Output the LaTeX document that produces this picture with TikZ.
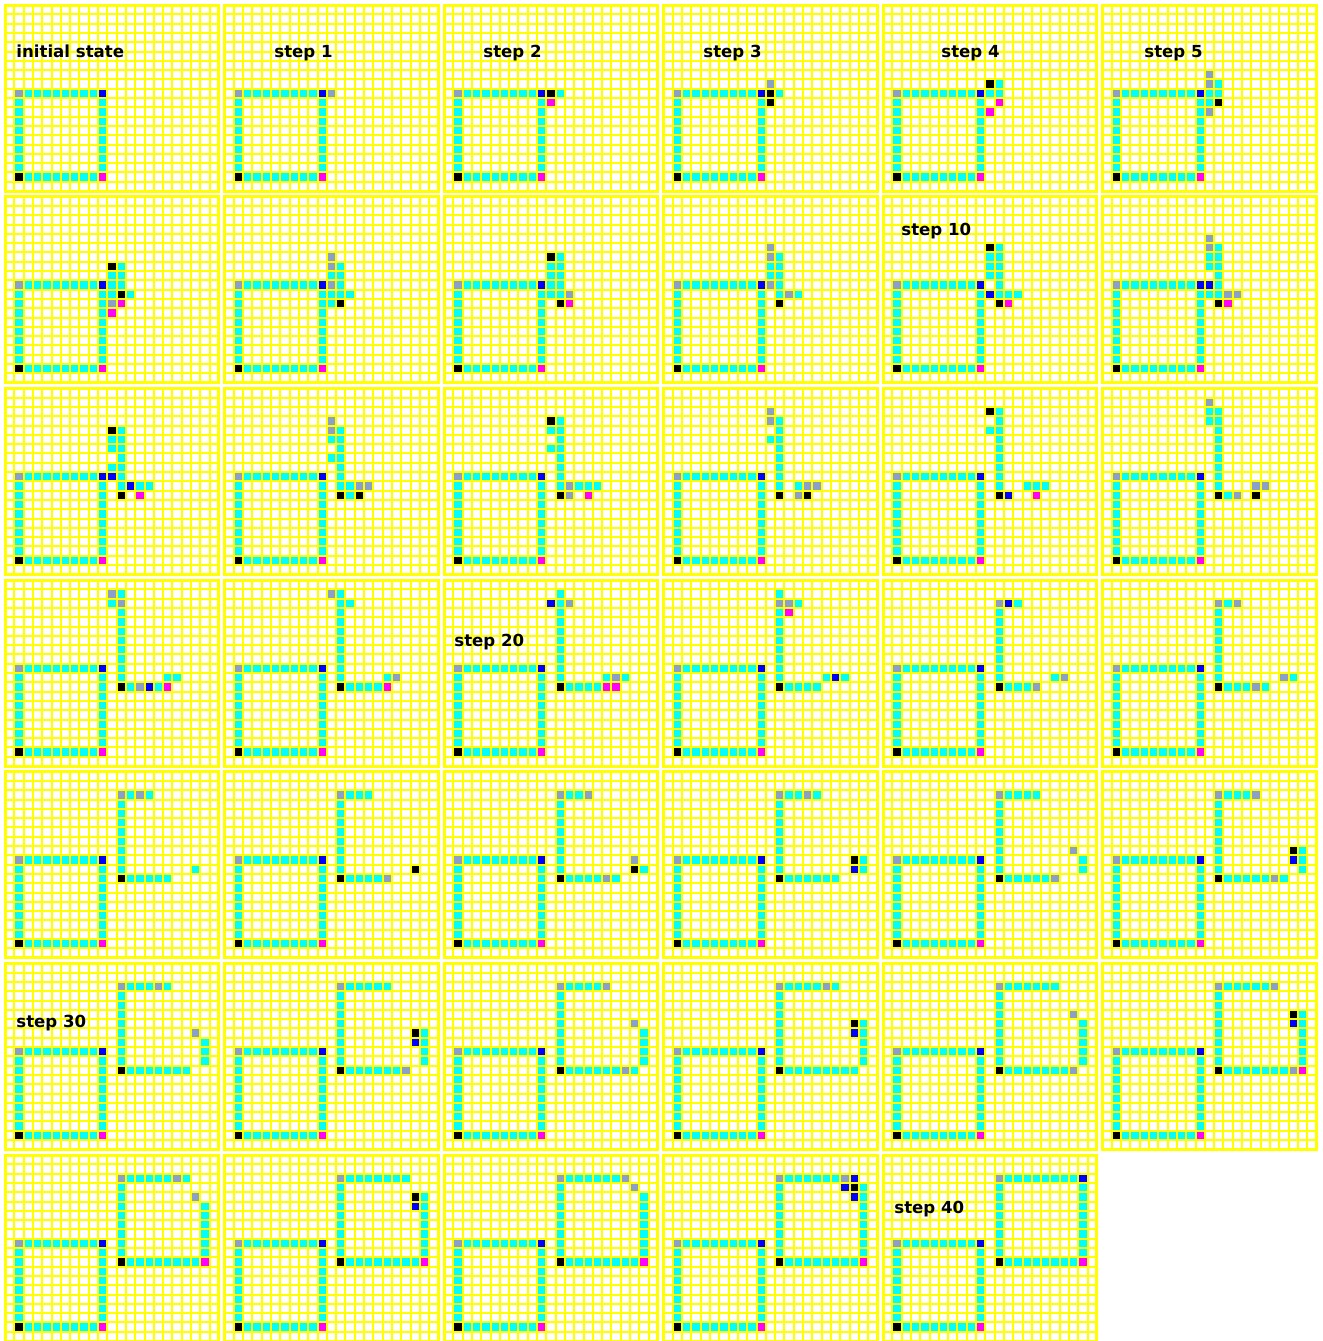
\documentclass[tikz,border=0pt]{standalone}
\usepackage{fontspec}
\newfontfamily\lblfont{DejaVu Sans}
\definecolor{cC}{RGB}{0,255,255}
\definecolor{cG}{RGB}{138,160,200}
\definecolor{cB}{RGB}{0,0,255}
\definecolor{cK}{RGB}{0,0,0}
\definecolor{cM}{RGB}{255,0,255}
\definecolor{yl}{RGB}{255,255,0}
\tikzset{
  gridline/.style={draw=yl, line width=1pt},
  panelborder/.style={draw=yl, line width=1.5pt},
  steplabel/.style={anchor=base west, inner sep=0pt, font=\lblfont\bfseries\fontsize{8.3pt}{10pt}\selectfont}
}
\newcommand\capanel[3]{%
\begin{scope}[shift={({5+219.5*#1},{5+191.67*#2})}, x=4.652pt, y=-4.65pt]
 \fill[white] (0,0) rectangle (23,20);
 \fill[cG] (1,9) rectangle (2,10);
 \fill[cC] (2,9) rectangle (10,10);
 \fill[cB] (10,9) rectangle (11,10);
 \fill[cC] (1,10) rectangle (2,18);
 \fill[cC] (10,10) rectangle (11,18);
 \fill[cK] (1,18) rectangle (2,19);
 \fill[cC] (2,18) rectangle (10,19);
 \fill[cM] (10,18) rectangle (11,19);
 \foreach \a/\b/\c/\d/\k in {#3} {\fill[\k] (\a,\b) rectangle ({\c+1},{\d+1});}
 \foreach \i in {1,...,22} {\draw[gridline] (\i,0) -- (\i,20);}
 \foreach \j in {1,...,19} {\draw[gridline] (0,\j) -- (23,\j);}
 \draw[panelborder] (0,0) rectangle (23,20);
\end{scope}}
\begin{document}
\begin{tikzpicture}[x=0.5pt, y=-0.5pt]
\fill[white] (0,0) rectangle (1323,1341);
\useasboundingbox (0,0) rectangle (1323,1341);
% row 0
\capanel{0}{0}{1/9/1/9/cG}
\capanel{1}{0}{11/9/11/9/cG}
\capanel{2}{0}{11/9/11/9/cK, 12/9/12/9/cC, 11/10/11/10/cM}
\capanel{3}{0}{11/8/11/8/cG, 11/9/11/9/cK, 12/9/12/9/cC, 11/10/11/10/cK}
\capanel{4}{0}{11/8/11/8/cK, 12/8/12/8/cC, 11/9/12/9/cC, 12/10/12/10/cM, 11/11/11/11/cM}
\capanel{5}{0}{11/7/11/8/cG, 12/8/12/8/cC, 11/9/12/9/cC, 11/10/11/10/cC, 12/10/12/10/cK, 11/11/11/11/cG}
% row 1
\capanel{0}{1}{11/7/11/7/cK, 12/7/12/7/cC, 11/8/12/9/cC, 11/10/11/10/cC, 12/10/12/10/cK, 13/10/13/10/cC, 11/11/11/11/cG, 12/11/12/11/cM, 11/12/11/12/cM}
\capanel{1}{1}{11/6/11/7/cG, 12/7/12/8/cC, 11/8/11/8/cC, 11/9/11/9/cG, 12/9/12/9/cC, 11/10/13/10/cC, 11/11/11/11/cC, 12/11/12/11/cK}
\capanel{2}{1}{11/6/11/6/cK, 12/6/12/6/cC, 11/7/12/10/cC, 13/10/13/10/cG, 12/11/12/11/cK, 13/11/13/11/cM}
\capanel{3}{1}{11/5/11/6/cG, 12/6/12/6/cC, 11/7/12/8/cC, 11/9/11/9/cG, 12/9/12/10/cC, 13/10/13/10/cG, 14/10/14/10/cC, 12/11/12/11/cK}
\capanel{4}{1}{11/5/11/5/cK, 12/5/12/5/cC, 11/6/12/8/cC, 12/9/12/9/cC, 11/10/11/10/cB, 12/10/14/10/cC, 12/11/12/11/cK, 13/11/13/11/cM}
\capanel{5}{1}{11/4/11/5/cG, 12/5/12/5/cC, 11/6/12/7/cC, 12/8/12/8/cC, 11/9/11/9/cB, 12/9/12/9/cC, 11/10/12/10/cC, 13/10/14/10/cG, 12/11/12/11/cK, 13/11/13/11/cM}
% row 2
\capanel{0}{2}{11/4/11/4/cK, 12/4/12/4/cC, 11/5/12/6/cC, 12/7/12/7/cC, 11/8/12/8/cC, 11/9/11/9/cB, 12/9/12/10/cC, 13/10/13/10/cB, 14/10/15/10/cC, 12/11/12/11/cK, 14/11/14/11/cM}
\capanel{1}{2}{11/3/11/4/cG, 12/4/12/4/cC, 11/5/11/5/cC, 12/5/12/10/cC, 11/7/11/7/cC, 13/10/13/10/cC, 14/10/15/10/cG, 12/11/12/11/cK, 13/11/13/11/cC, 14/11/14/11/cK}
\capanel{2}{2}{11/3/11/3/cK, 12/3/12/10/cC, 11/4/11/4/cC, 11/6/11/6/cC, 13/10/13/10/cG, 14/10/16/10/cC, 12/11/12/11/cK, 13/11/13/11/cG, 15/11/15/11/cM}
\capanel{3}{2}{11/2/11/3/cG, 12/3/12/10/cC, 11/5/11/5/cC, 14/10/14/10/cC, 15/10/16/10/cG, 12/11/12/11/cK, 14/11/14/11/cG, 15/11/15/11/cK}
\capanel{4}{2}{11/2/11/2/cK, 12/2/12/10/cC, 11/4/11/4/cC, 15/10/17/10/cC, 12/11/12/11/cK, 13/11/13/11/cB, 16/11/16/11/cM}
\capanel{5}{2}{11/1/11/1/cG, 11/2/11/3/cC, 12/2/12/10/cC, 16/10/17/10/cG, 12/11/12/11/cK, 13/11/13/11/cC, 14/11/14/11/cG, 16/11/16/11/cK}
% row 3
\capanel{0}{3}{11/1/11/1/cG, 12/1/12/1/cC, 11/2/11/2/cC, 12/2/12/2/cG, 12/3/12/10/cC, 17/10/18/10/cC, 12/11/12/11/cK, 13/11/13/11/cC, 14/11/14/11/cG, 15/11/15/11/cB, 16/11/16/11/cC, 17/11/17/11/cM}
\capanel{1}{3}{11/1/11/1/cG, 12/1/12/10/cC, 13/2/13/2/cC, 17/10/17/10/cC, 18/10/18/10/cG, 12/11/12/11/cK, 13/11/16/11/cC, 17/11/17/11/cM}
\capanel{2}{3}{12/1/12/10/cC, 11/2/11/2/cB, 13/2/13/2/cG, 17/10/17/10/cC, 18/10/18/10/cG, 19/10/19/10/cC, 12/11/12/11/cK, 13/11/16/11/cC, 17/11/18/11/cM}
\capanel{3}{3}{12/1/12/1/cC, 12/2/13/2/cG, 14/2/14/2/cC, 12/3/12/10/cC, 13/3/13/3/cM, 17/10/17/10/cC, 18/10/18/10/cB, 19/10/19/10/cC, 12/11/12/11/cK, 13/11/16/11/cC}
\capanel{4}{3}{12/2/12/2/cG, 13/2/13/2/cB, 14/2/14/2/cC, 12/3/12/10/cC, 18/10/18/10/cC, 19/10/19/10/cG, 12/11/12/11/cK, 13/11/15/11/cC, 16/11/16/11/cG}
\capanel{5}{3}{12/2/12/2/cG, 13/2/13/2/cC, 14/2/14/2/cG, 12/3/12/10/cC, 19/10/19/10/cG, 20/10/20/10/cC, 12/11/12/11/cK, 13/11/15/11/cC, 16/11/16/11/cG, 17/11/17/11/cC}
% row 4
\capanel{0}{4}{12/2/12/2/cG, 13/2/13/2/cC, 14/2/14/2/cG, 15/2/15/2/cC, 12/3/12/10/cC, 20/10/20/10/cC, 12/11/12/11/cK, 13/11/17/11/cC}
\capanel{1}{4}{12/2/12/2/cG, 13/2/15/2/cC, 12/3/12/10/cC, 20/10/20/10/cK, 12/11/12/11/cK, 13/11/16/11/cC, 17/11/17/11/cG}
\capanel{2}{4}{12/2/12/2/cG, 13/2/14/2/cC, 15/2/15/2/cG, 12/3/12/10/cC, 20/9/20/9/cG, 20/10/20/10/cK, 21/10/21/10/cC, 12/11/12/11/cK, 13/11/16/11/cC, 17/11/17/11/cG, 18/11/18/11/cC}
\capanel{3}{4}{12/2/12/2/cG, 13/2/14/2/cC, 15/2/15/2/cG, 16/2/16/2/cC, 12/3/12/10/cC, 20/9/20/9/cK, 21/9/21/10/cC, 20/10/20/10/cB, 12/11/12/11/cK, 13/11/18/11/cC}
\capanel{4}{4}{12/2/12/2/cG, 13/2/16/2/cC, 12/3/12/10/cC, 20/8/20/8/cG, 21/9/21/10/cC, 12/11/12/11/cK, 13/11/17/11/cC, 18/11/18/11/cG}
\capanel{5}{4}{12/2/12/2/cG, 13/2/15/2/cC, 16/2/16/2/cG, 12/3/12/10/cC, 20/8/20/8/cK, 21/8/21/10/cC, 20/9/20/9/cB, 12/11/12/11/cK, 13/11/17/11/cC, 18/11/18/11/cG, 19/11/19/11/cC}
% row 5
\capanel{0}{5}{12/2/12/2/cG, 13/2/15/2/cC, 16/2/16/2/cG, 17/2/17/2/cC, 12/3/12/10/cC, 20/7/20/7/cG, 21/8/21/10/cC, 12/11/12/11/cK, 13/11/19/11/cC}
\capanel{1}{5}{12/2/12/2/cG, 13/2/17/2/cC, 12/3/12/10/cC, 20/7/20/7/cK, 21/7/21/10/cC, 20/8/20/8/cB, 12/11/12/11/cK, 13/11/18/11/cC, 19/11/19/11/cG}
\capanel{2}{5}{12/2/12/2/cG, 13/2/16/2/cC, 17/2/17/2/cG, 12/3/12/10/cC, 20/6/20/6/cG, 21/7/21/10/cC, 12/11/12/11/cK, 13/11/18/11/cC, 19/11/19/11/cG, 20/11/20/11/cC}
\capanel{3}{5}{12/2/12/2/cG, 13/2/16/2/cC, 17/2/17/2/cG, 18/2/18/2/cC, 12/3/12/10/cC, 20/6/20/6/cK, 21/6/21/10/cC, 20/7/20/7/cB, 12/11/12/11/cK, 13/11/20/11/cC}
\capanel{4}{5}{12/2/12/2/cG, 13/2/18/2/cC, 12/3/12/10/cC, 20/5/20/5/cG, 21/6/21/10/cC, 12/11/12/11/cK, 13/11/19/11/cC, 20/11/20/11/cG}
\capanel{5}{5}{12/2/12/2/cG, 13/2/17/2/cC, 18/2/18/2/cG, 12/3/12/10/cC, 20/5/20/5/cK, 21/5/21/10/cC, 20/6/20/6/cB, 12/11/12/11/cK, 13/11/19/11/cC, 20/11/20/11/cG, 21/11/21/11/cM}
% row 6
\capanel{0}{6}{12/2/12/2/cG, 13/2/17/2/cC, 18/2/18/2/cG, 19/2/19/2/cC, 12/3/12/10/cC, 20/4/20/4/cG, 21/5/21/10/cC, 12/11/12/11/cK, 13/11/20/11/cC, 21/11/21/11/cM}
\capanel{1}{6}{12/2/12/2/cG, 13/2/19/2/cC, 12/3/12/10/cC, 20/4/20/4/cK, 21/4/21/10/cC, 20/5/20/5/cB, 12/11/12/11/cK, 13/11/20/11/cC, 21/11/21/11/cM}
\capanel{2}{6}{12/2/12/2/cG, 13/2/18/2/cC, 19/2/19/2/cG, 12/3/12/10/cC, 20/3/20/3/cG, 21/4/21/10/cC, 12/11/12/11/cK, 13/11/20/11/cC, 21/11/21/11/cM}
\capanel{3}{6}{12/2/12/2/cG, 13/2/18/2/cC, 19/2/19/2/cG, 20/2/20/2/cB, 19/3/19/3/cB, 20/3/20/3/cK, 21/3/21/10/cC, 20/4/20/4/cB, 12/3/12/10/cC, 12/11/12/11/cK, 13/11/20/11/cC, 21/11/21/11/cM}
\capanel{4}{6}{12/2/12/2/cG, 13/2/20/2/cC, 21/2/21/2/cB, 12/3/12/10/cC, 21/3/21/10/cC, 12/11/12/11/cK, 13/11/20/11/cC, 21/11/21/11/cM}
% labels
\node[steplabel] (l0) at (16,57) {initial state};
\node[steplabel] (l1) at (274,57) {step 1};
\node[steplabel] (l2) at (483,57) {step 2};
\node[steplabel] (l3) at (703,57) {step 3};
\node[steplabel] (l4) at (941,57) {step 4};
\node[steplabel] (l5) at (1144,57) {step 5};
\node[steplabel] (l10) at (901,235.5) {step 10};
\node[steplabel] (l20) at (454,646) {step 20};
\node[steplabel] (l30) at (16,1027.5) {step 30};
\node[steplabel] (l40) at (894,1213) {step 40};
\end{tikzpicture}
\end{document}
